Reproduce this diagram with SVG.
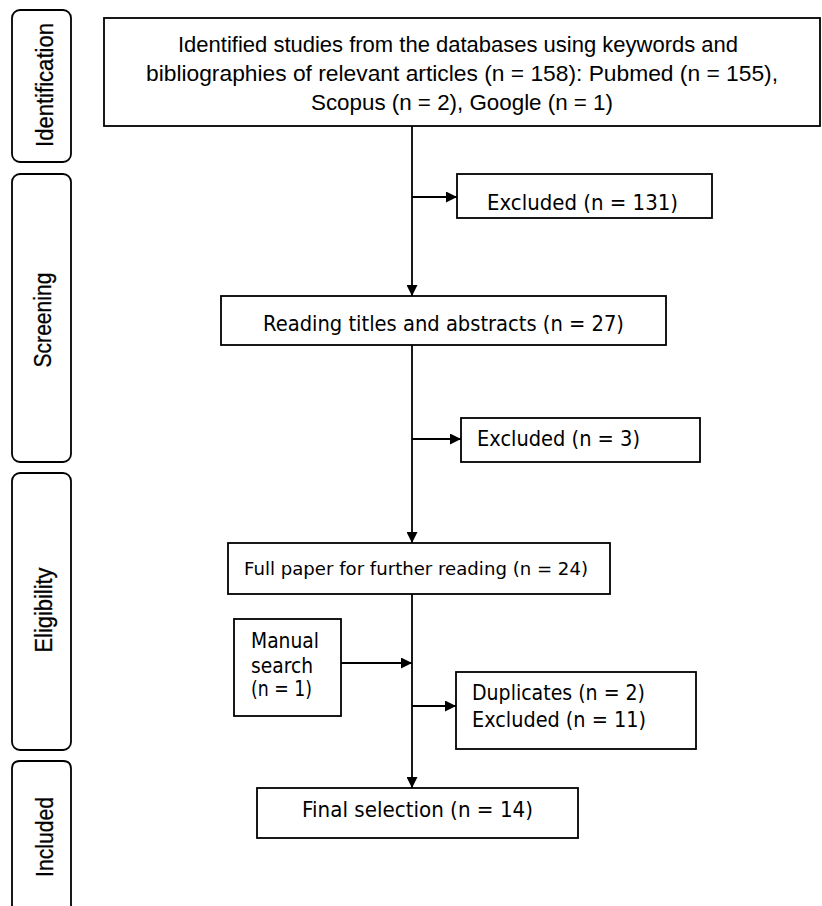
<svg xmlns="http://www.w3.org/2000/svg" width="822" height="906" viewBox="0 0 822 906">
<defs>
<marker id="ah" viewBox="0 0 10 10" refX="10" refY="5" markerWidth="11" markerHeight="11" markerUnits="userSpaceOnUse" orient="auto">
<path d="M0,0 L10,5 L0,10 z" fill="#000"/>
</marker>
<style>
.box{fill:#fff;stroke:#000;stroke-width:1.8}
.side{fill:#fff;stroke:#000;stroke-width:1.8}
.t{font-family:"DejaVu Sans",Verdana,sans-serif;font-size:21px;fill:#000}
.top{font-family:"Liberation Sans Narrow","Liberation Sans",Arial,sans-serif;font-size:22px;fill:#000;text-anchor:middle}
.st{font-family:"Liberation Sans Narrow","Liberation Sans",Arial,sans-serif;font-size:23px;fill:#000;text-anchor:middle;stroke:#000;stroke-width:0.3}
.c{fill:none;stroke:#000;stroke-width:1.8}
</style>
</defs>
<rect width="822" height="906" fill="#fff"/>
<g id="stage-identification">
<rect class="side" x="12" y="10" width="59" height="152" rx="8"/>
<text class="st" transform="translate(53,85) rotate(-90)" textLength="124" lengthAdjust="spacingAndGlyphs">Identification</text>
</g>
<g id="stage-screening">
<rect class="side" x="12" y="174" width="59" height="288" rx="8"/>
<text class="st" transform="translate(51,320) rotate(-90)" textLength="95" lengthAdjust="spacingAndGlyphs">Screening</text>
</g>
<g id="stage-eligibility">
<rect class="side" x="12" y="473" width="59" height="277" rx="8"/>
<text class="st" transform="translate(52,610) rotate(-90)" textLength="85" lengthAdjust="spacingAndGlyphs">Eligibility</text>
</g>
<g id="stage-included">
<path class="side" d="M12,920 L12,769 Q12,761 20,761 L63,761 Q71,761 71,769 L71,920"/>
<text class="st" transform="translate(53,837) rotate(-90)" textLength="80" lengthAdjust="spacingAndGlyphs">Included</text>
</g>
<g id="identified">
<rect class="box" x="104" y="18" width="716" height="108"/>
<text class="top" x="458" y="52" textLength="560" lengthAdjust="spacingAndGlyphs">Identified studies from the databases using keywords and</text>
<text class="top" x="462" y="81" textLength="632" lengthAdjust="spacingAndGlyphs">bibliographies of relevant articles (n = 158): Pubmed (n = 155),</text>
<text class="top" x="462" y="110" textLength="302" lengthAdjust="spacingAndGlyphs">Scopus (n = 2), Google (n = 1)</text>
</g>
<g id="excluded-131">
<rect class="box" x="457" y="174" width="255" height="44"/>
<text class="t" x="487" y="210" textLength="191" lengthAdjust="spacingAndGlyphs">Excluded (n = 131)</text>
</g>
<g id="reading">
<rect class="box" x="221" y="296" width="445" height="49"/>
<text class="t" x="263" y="331" textLength="361" lengthAdjust="spacingAndGlyphs">Reading titles and abstracts (n = 27)</text>
</g>
<g id="excluded-3">
<rect class="box" x="461" y="418" width="239" height="44"/>
<text class="t" x="477" y="446" textLength="163" lengthAdjust="spacingAndGlyphs">Excluded (n = 3)</text>
</g>
<g id="full-paper">
<rect class="box" x="228" y="543" width="382" height="51"/>
<text class="t" x="244" y="575" style="font-size:18px" textLength="344" lengthAdjust="spacingAndGlyphs">Full paper for further reading (n = 24)</text>
</g>
<g id="manual-search">
<rect class="box" x="234" y="619" width="107" height="97"/>
<text class="t" x="251" y="648" textLength="68" lengthAdjust="spacingAndGlyphs">Manual</text>
<text class="t" x="251" y="673" textLength="62" lengthAdjust="spacingAndGlyphs">search</text>
<text class="t" x="251" y="696" textLength="61" lengthAdjust="spacingAndGlyphs">(n = 1)</text>
</g>
<g id="duplicates">
<rect class="box" x="456" y="672" width="240" height="77"/>
<text class="t" x="472" y="700" textLength="173" lengthAdjust="spacingAndGlyphs">Duplicates (n = 2)</text>
<text class="t" x="472" y="727" textLength="174" lengthAdjust="spacingAndGlyphs">Excluded (n = 11)</text>
</g>
<g id="final">
<rect class="box" x="257" y="788" width="321" height="50"/>
<text class="t" x="302" y="817" textLength="231" lengthAdjust="spacingAndGlyphs">Final selection (n = 14)</text>
</g>
<g id="connectors">
<line class="c" x1="412" y1="126" x2="412" y2="296" marker-end="url(#ah)"/>
<line class="c" x1="412" y1="197" x2="457" y2="197" marker-end="url(#ah)"/>
<line class="c" x1="412" y1="345" x2="412" y2="543" marker-end="url(#ah)"/>
<line class="c" x1="412" y1="439" x2="461" y2="439" marker-end="url(#ah)"/>
<line class="c" x1="412" y1="594" x2="412" y2="788" marker-end="url(#ah)"/>
<line class="c" x1="341" y1="663" x2="412" y2="663" marker-end="url(#ah)"/>
<line class="c" x1="412" y1="706" x2="456" y2="706" marker-end="url(#ah)"/>
</g>
</svg>
